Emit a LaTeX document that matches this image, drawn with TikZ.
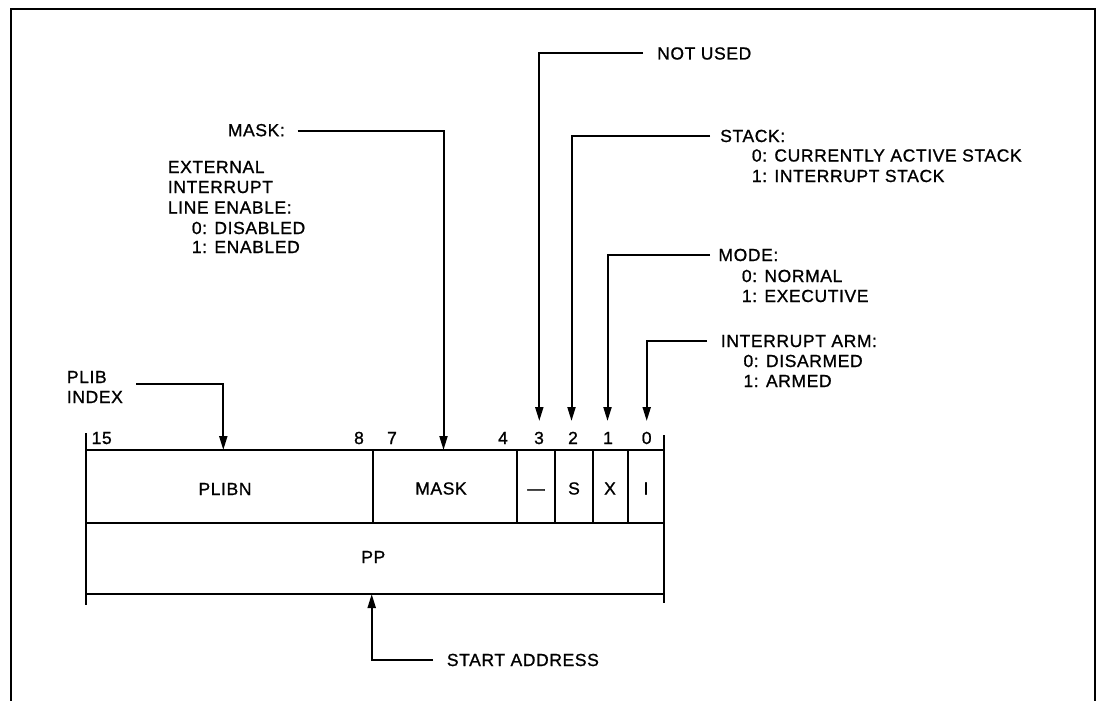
\documentclass[tikz,border=0pt]{standalone}
\usepackage{fontspec}
\setmainfont{Liberation Sans}[LetterSpace=3.5,FakeBold=1]
\usetikzlibrary{arrows.meta}
\tikzset{
  txt/.style={inner sep=0pt, anchor=base west, font=\fontsize{17.5}{20}\selectfont},
  ctxt/.style={inner sep=0pt, anchor=base, font=\fontsize{17.5}{20}\selectfont},
  ln/.style={line width=2pt, line cap=butt, line join=miter},
  arr/.style={ln, -{Triangle[length=14pt,width=8pt]}},
}
\begin{document}
\begin{tikzpicture}[x=1pt,y=-1pt]
\useasboundingbox (0,0) rectangle (1097,701);
% frame
\draw[ln] (11,701) -- (11,9.5) -- (1095,9.5) -- (1095,701);

% register
\draw[ln] (86,450) rectangle (663.5,594);
\draw[ln] (86,523.3) -- (663.5,523.3);
\foreach \x in {373.3,517.3,555,593.3,627.7} \draw[ln] (\x,450) -- (\x,523.3);
\draw[ln] (86,433) -- (86,605);
\draw[ln] (663.5,435) -- (663.5,603);

% field labels
\node[ctxt] (plibn) at (225,495) {PLIBN};
\node[ctxt] (maskf) at (441,494.5) {MASK};
\node[ctxt] (nu3) at (536,494.5) {—};
\node[ctxt] (sf) at (574,494.5) {S};
\node[ctxt] (xf) at (610,494.5) {X};
\node[ctxt] (if) at (646,494.5) {I};
\node[ctxt] (pp) at (373.3,563) {PP};

% bit numbers
\node[ctxt] (n15) at (101.7,444) {15};
\node[ctxt] (n8) at (359,444) {8};
\node[ctxt] (n7) at (392,444) {7};
\node[ctxt] (n4) at (503,444) {4};
\node[ctxt] (n3) at (539,444) {3};
\node[ctxt] (n2) at (573,444) {2};
\node[ctxt] (n1) at (608,444) {1};
\node[ctxt] (n0) at (646.7,444) {0};

% annotations
\node[txt] (notused) at (657,59.5) {NOT USED};

\node[txt] (mask) at (227.7,136.2) {MASK:};
\node[txt] (ext1) at (167.7,173) {EXTERNAL};
\node[txt] (ext2) at (167.7,193) {INTERRUPT};
\node[txt] (ext3) at (167.7,213.5) {LINE ENABLE:};
\node[txt] (ext4) at (191.7,234) {0: DISABLED};
\node[txt] (ext5) at (191.7,253) {1: ENABLED};

\node[txt] (stack) at (720,142) {STACK:};
\node[txt] (stack0) at (751.7,161.5) {0: CURRENTLY ACTIVE STACK};
\node[txt] (stack1) at (751.7,182) {1: INTERRUPT STACK};

\node[txt] (mode) at (718.3,261) {MODE:};
\node[txt] (mode0) at (741.7,282) {0: NORMAL};
\node[txt] (mode1) at (741.7,302) {1: EXECUTIVE};

\node[txt] (arm) at (720.7,347) {INTERRUPT ARM:};
\node[txt] (arm0) at (743.3,367) {0: DISARMED};
\node[txt] (arm1) at (743.3,387) {1: ARMED};

\node[txt] (plib1) at (66.7,383) {PLIB};
\node[txt] (plib2) at (66.7,403) {INDEX};

\node[txt] (start) at (446.7,666) {START ADDRESS};

% connector end points
\coordinate (cNU) at (643,53.3);
\coordinate (tNU) at (539.3,421);
\coordinate (cST) at (710,135.7);
\coordinate (tST) at (571.5,421);
\coordinate (cMO) at (710,255);
\coordinate (tMO) at (607.5,421);
\coordinate (cAR) at (707,340.7);
\coordinate (tAR) at (646.7,421);
\coordinate (cMK) at (297.7,131);
\coordinate (tMK) at (443.5,450);
\coordinate (cPL) at (136,384);
\coordinate (tPL) at (223.3,450);
\coordinate (cSA) at (433,660);
\coordinate (tSA) at (371.7,594);

\draw[arr] (cNU) -| (tNU);
\draw[arr] (cST) -| (tST);
\draw[arr] (cMO) -| (tMO);
\draw[arr] (cAR) -| (tAR);
\draw[arr] (cMK) -| (tMK);
\draw[arr] (cPL) -| (tPL);
\draw[arr] (cSA) -| (tSA);
\end{tikzpicture}
\end{document}
